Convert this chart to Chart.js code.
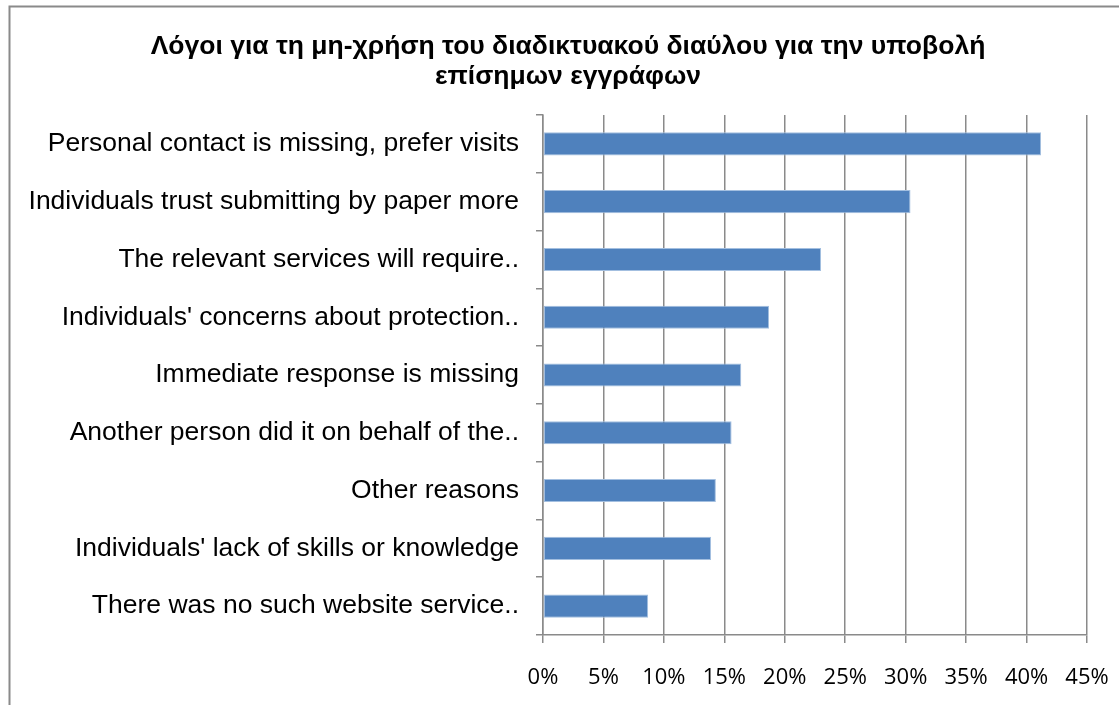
<!DOCTYPE html>
<html>
<head>
<meta charset="utf-8">
<script src="https://cdn.jsdelivr.net/npm/chart.js@4/dist/chart.umd.min.js"></script>
<style>
  html, body { margin: 0; padding: 0; background: #fff; }
  #wrap { width: 1119px; height: 705px; position: relative; }
</style>
</head>
<body>
<div id="wrap"><canvas id="reasons"></canvas></div>
<script>
'use strict';

// reasons for not using the online channel, share of respondents (%)
const titleLines = [
  'Λόγοι για τη μη-χρήση του διαδικτυακού διαύλου για την υποβολή',
  'επίσημων εγγράφων'
];
const reasons = [
  'Personal contact is missing, prefer visits',
  'Individuals trust submitting by paper more',
  'The relevant services will require..',
  "Individuals' concerns about protection..",
  'Immediate response is missing',
  'Another person did it on behalf of the..',
  'Other reasons',
  "Individuals' lack of skills or knowledge",
  'There was no such website service..'
];
const shares = [41.2, 30.4, 23.0, 18.7, 16.4, 15.6, 14.3, 13.9, 8.7];
const xTicks = [0, 5, 10, 15, 20, 25, 30, 35, 40, 45];

const GREY = '#8a8a8a';
const ARIAL = '"Liberation Sans", Arial, sans-serif';

// chart area frame (only top and left edges fall inside the canvas)
const frame = {
  id: 'frame',
  beforeDraw(chart) {
    const ctx = chart.ctx;
    ctx.save();
    ctx.fillStyle = '#fff';
    ctx.fillRect(0, 0, chart.width, chart.height);
    ctx.strokeStyle = GREY;
    ctx.lineWidth = 2;
    ctx.beginPath();
    ctx.moveTo(9.5, chart.height);
    ctx.lineTo(9.5, 6.5);
    ctx.lineTo(chart.width, 6.5);
    ctx.stroke();
    ctx.restore();
  },
  // centre the title over the whole frame, which runs past the right edge
  afterLayout(chart) {
    if (chart.titleBlock) chart.titleBlock.left += 40;
  }
};

const ctx = document.getElementById('reasons');
new Chart(ctx, {
  type: 'bar',
  data: {
    labels: reasons,
    datasets: [{
      data: shares,
      backgroundColor: '#4f81bd',
      borderColor: '#a3bfe0',
      borderWidth: 1,
      borderSkipped: false,
      barPercentage: 0.4,
      categoryPercentage: 1
    }]
  },
  options: {
    indexAxis: 'y',
    responsive: true,
    maintainAspectRatio: false,
    animation: false,
    layout: { padding: { top: 32, left: 9, right: 32, bottom: 14 } },
    plugins: {
      legend: { display: false },
      tooltip: { enabled: false },
      title: {
        display: true,
        text: titleLines,
        color: '#000',
        font: { family: ARIAL, size: 26.5, weight: 'bold', lineHeight: '30px' },
        padding: { top: 0, bottom: 23 }
      }
    },
    scales: {
      x: {
        min: 0,
        max: 45,
        afterBuildTicks(scale) {
          scale.ticks = xTicks.map(v => ({ value: v }));
        },
        afterFit(scale) {
          // keep the plot edges put; the end labels may overhang
          scale.height = 56;
          scale.paddingLeft = 0;
          scale.paddingRight = 0;
        },
        ticks: {
          callback: v => v + '%',
          color: '#000',
          padding: 22,
          maxRotation: 0,
          font: { family: '"Open Sans", sans-serif', size: 22 }
        },
        grid: { color: GREY, lineWidth: 1.5, tickLength: 8 },
        border: { color: GREY, width: 1.5 }
      },
      y: {
        afterFit(scale) {
          scale.width = 534;
          scale.paddingTop = 0;
          scale.paddingBottom = 0;
        },
        ticks: {
          color: '#000',
          padding: 17,
          autoSkip: false,
          font: { family: ARIAL, size: 26.5 }
        },
        grid: { offset: true, drawOnChartArea: false, color: GREY, lineWidth: 1.5, tickLength: 7 },
        border: { color: GREY, width: 1.5 }
      }
    }
  },
  plugins: [frame]
});
</script>
</body>
</html>
